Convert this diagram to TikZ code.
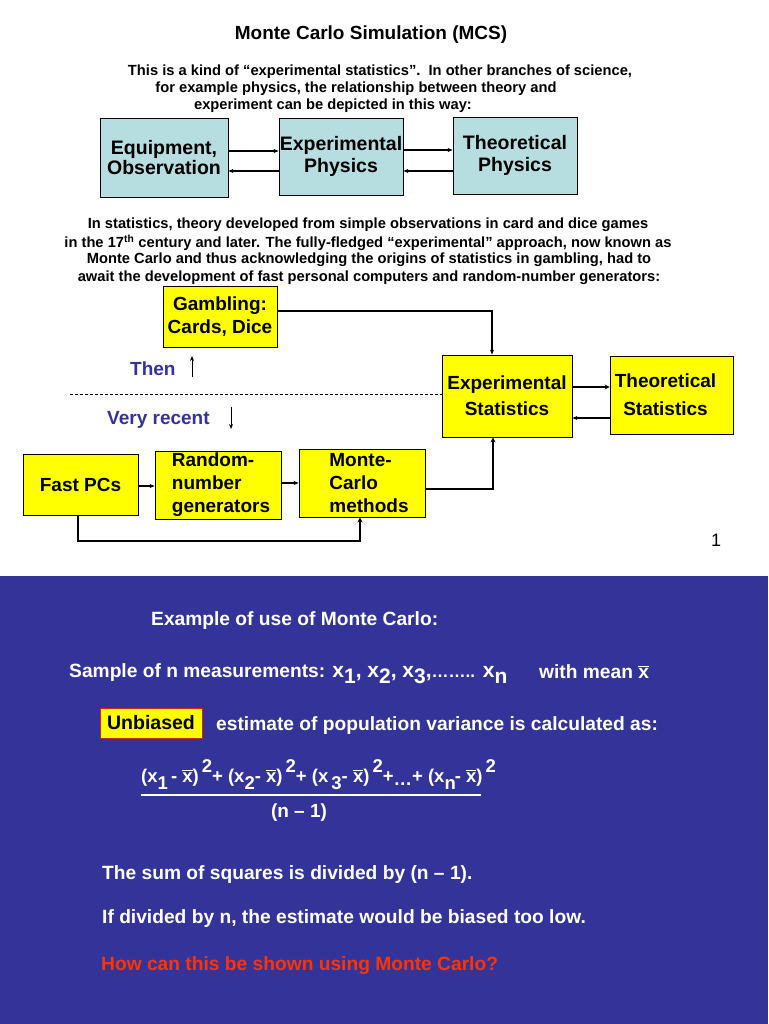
\documentclass[tikz,border=0pt]{standalone}
\usepackage{fontspec}
\setmainfont{Liberation Sans}
\usetikzlibrary{arrows.meta}
\definecolor{cyanbox}{RGB}{182,222,224}
\definecolor{ybox}{RGB}{255,255,0}
\definecolor{navy}{RGB}{51,51,153}
\definecolor{bgblue}{RGB}{51,51,153}
\definecolor{redtext}{RGB}{255,51,0}
\newcommand{\xov}{\vbox{\hrule height 1.1pt\kern 1.6pt\hbox{x}}}
\tikzset{
  cbox/.style={draw=black, fill=cyanbox, line width=0.8pt, inner sep=0pt, font=\fontsize{19.5}{22}\selectfont\bfseries, align=center},
  ybx/.style={draw=black, fill=ybox, line width=0.8pt, inner sep=0pt, font=\fontsize{19}{23}\selectfont\bfseries, align=center},
  conn/.style={line width=1.1pt, -{Stealth[length=5pt,width=4pt]}},
  thickconn/.style={line width=2.6pt, -{Stealth[length=5pt,width=5pt]}},
  ptext/.style={font=\fontsize{14.7}{17}\selectfont\bfseries, anchor=center, inner sep=0pt, yshift=-2pt},
  wtext/.style={font=\fontsize{19.2}{22}\selectfont\bfseries, text=white, anchor=west, inner sep=0pt, yshift=-2.5pt},
  navytext/.style={font=\fontsize{19}{22}\selectfont\bfseries, text=navy, inner sep=0pt, anchor=west, yshift=-1.5pt},
}
\begin{document}
\begin{tikzpicture}[x=1pt,y=-1pt]
\useasboundingbox (0,0) rectangle (768,1024);
\fill[white] (0,0) rectangle (768,576);
\fill[bgblue] (0,576) rectangle (768,1024);

% title
\node[font=\fontsize{19}{22}\selectfont\bfseries, inner sep=0pt, yshift=-2pt] (title) at (371,33) {Monte Carlo Simulation (MCS)};

% paragraph 1
\node[ptext] (p1a) at (380,70) {This is a kind of “experimental statistics”.\ \ In other branches of science,};
\node[ptext] (p1b) at (356,87) {for example physics, the relationship between theory and};
\node[ptext] (p1c) at (333,104) {experiment can be depicted in this way:};

% physics boxes
\node[cbox, minimum width=128pt, minimum height=79pt, font=\fontsize{19.5}{19.5}\selectfont\bfseries] (equip) at (164,157.5) {Equipment,\\Observation};
\node[cbox, minimum width=124pt, minimum height=77pt] (exphys) at (341,156.5) {Experimental\\Physics};
\node[cbox, minimum width=124pt, minimum height=77pt] (thphys) at (515,155.5) {Theoretical\\Physics};

\draw[conn] (equip.east |- 0,151) -- (exphys.west |- 0,151);
\draw[conn] (exphys.west |- 0,171) -- (equip.east |- 0,171);
\draw[conn] (exphys.east |- 0,150) -- (thphys.west |- 0,150);
\draw[conn, line width=2pt] (thphys.west |- 0,171) -- (exphys.east |- 0,171);

% paragraph 2
\node[ptext] (p2a) at (368,223) {In statistics, theory developed from simple observations in card and dice games};
\node[ptext] (p2b) at (368,241) {in the 17\textsuperscript{th} century and later. The fully-fledged “experimental” approach, now known as};
\node[ptext] (p2c) at (369,258) {Monte Carlo and thus acknowledging the origins of statistics in gambling, had to};
\node[ptext] (p2d) at (369,276) {await the development of fast personal computers and random-number generators:};

% statistics diagram
\node[ybx, minimum width=114pt, minimum height=61pt] (gamb) at (220,316.5) {Gambling:\\Cards, Dice};
\node[ybx, minimum width=130pt, minimum height=82pt, font=\fontsize{19}{26}\selectfont\bfseries] (expstat) at (507,396) {Experimental\\Statistics};
\node[ybx, minimum width=123pt, minimum height=78pt, font=\fontsize{19}{28}\selectfont\bfseries] (thstat) at (671.5,395) {Theoretical\hspace*{12pt}\\Statistics\hspace*{12pt}};
\node[ybx, minimum width=115pt, minimum height=61pt] (fast) at (80.5,484.5) {Fast PCs};
\node[ybx, minimum width=126pt, minimum height=68pt, align=left] (rng) at (218,485) {\hspace*{6pt}Random-\\\hspace*{6pt}number\\\hspace*{6pt}generators};
\node[ybx, minimum width=126pt, minimum height=68pt, align=left] (mc) at (362,483) {\hspace*{14pt}Monte-\\\hspace*{14pt}Carlo\\\hspace*{14pt}methods};

\draw[conn, line width=1.6pt] (gamb.east |- 0,311) -| (expstat.north -| 492,0);
\draw[thickconn] (expstat.east |- 0,387) -- (thstat.west |- 0,387);
\draw[conn, line width=1.4pt] (thstat.west |- 0,418) -- (expstat.east |- 0,418);
\draw[conn, line width=1.4pt] (fast.east |- 0,486) -- (rng.west |- 0,486);
\draw[conn, line width=1.4pt] (rng.east |- 0,483) -- (mc.west |- 0,483);
\draw[thickconn] (mc.east |- 0,489) -| (expstat.south -| 493,0);
\draw[thickconn] (fast.south -| 78,0) |- (360,541) -- (mc.south -| 360,0);

% then / very recent
\node[navytext] (then) at (130,367) {Then};
\coordinate (thenA) at (192,377);
\coordinate (thenB) at (192,356);
\draw[conn, line width=0.8pt] (thenA) -- (thenB);
\coordinate (dashA) at (70,394);
\draw[dashed, line width=0.7pt, dash pattern=on 3pt off 2pt] (dashA) -- (expstat.west |- 0,394);
\node[navytext] (recent) at (107,418) {Very recent};
\coordinate (recA) at (231,407);
\coordinate (recB) at (231,429);
\draw[conn, line width=0.8pt] (recA) -- (recB);

\node[font=\fontsize{18}{20}\selectfont, inner sep=0pt] (pagenum) at (716,540) {1};

% blue section
\node[wtext] (ex) at (151,618) {Example of use of Monte Carlo:};
\node[wtext] (sample) at (69,671) {Sample of n measurements: {\fontsize{21}{22}\selectfont x\raisebox{-6pt}{1}, x\raisebox{-6pt}{2}, x\raisebox{-6pt}{3},{\fontsize{17}{20}\selectfont……..} x\raisebox{-6pt}{n}}};
\node[wtext] (mean) at (539,669) {with mean \xov};
\node[draw=redtext!80!black, line width=1pt, fill=ybox, minimum width=102pt, minimum height=30pt, inner sep=0pt, font=\fontsize{19.5}{22}\selectfont\bfseries] (unb) at (151,723) {Unbiased};
\node[wtext] (est) at (216,723) {estimate of population variance is calculated as:};
\node[wtext, font=\fontsize{18.5}{22}\selectfont\bfseries] (num) at (141,772) {(x\raisebox{-7pt}{1}\,- \xov)\,\raisebox{10pt}{2}+ (x\raisebox{-7pt}{2}- \xov)\,\raisebox{10pt}{2}+ (x\raisebox{-7pt}{\,3}- \xov)\,\raisebox{10pt}{2}+\raisebox{-3pt}{…}+ (x\raisebox{-7pt}{n}\kern-1pt- \xov)\,\raisebox{10pt}{2}};
\coordinate (fracA) at (141,795);
\coordinate (fracB) at (481,795);
\draw[white, line width=1.5pt] (fracA) -- (fracB);
\node[wtext, font=\fontsize{19}{22}\selectfont\bfseries, anchor=center] (den) at (299,810) {(n – 1)};
\node[wtext] (sum) at (102,872) {The sum of squares is divided by (n – 1).};
\node[wtext] (ifdiv) at (102,916) {If divided by n, the estimate would be biased too low.};
\node[wtext, text=redtext] (how) at (101,963) {How can this be shown using Monte Carlo?};
\end{tikzpicture}
\end{document}
